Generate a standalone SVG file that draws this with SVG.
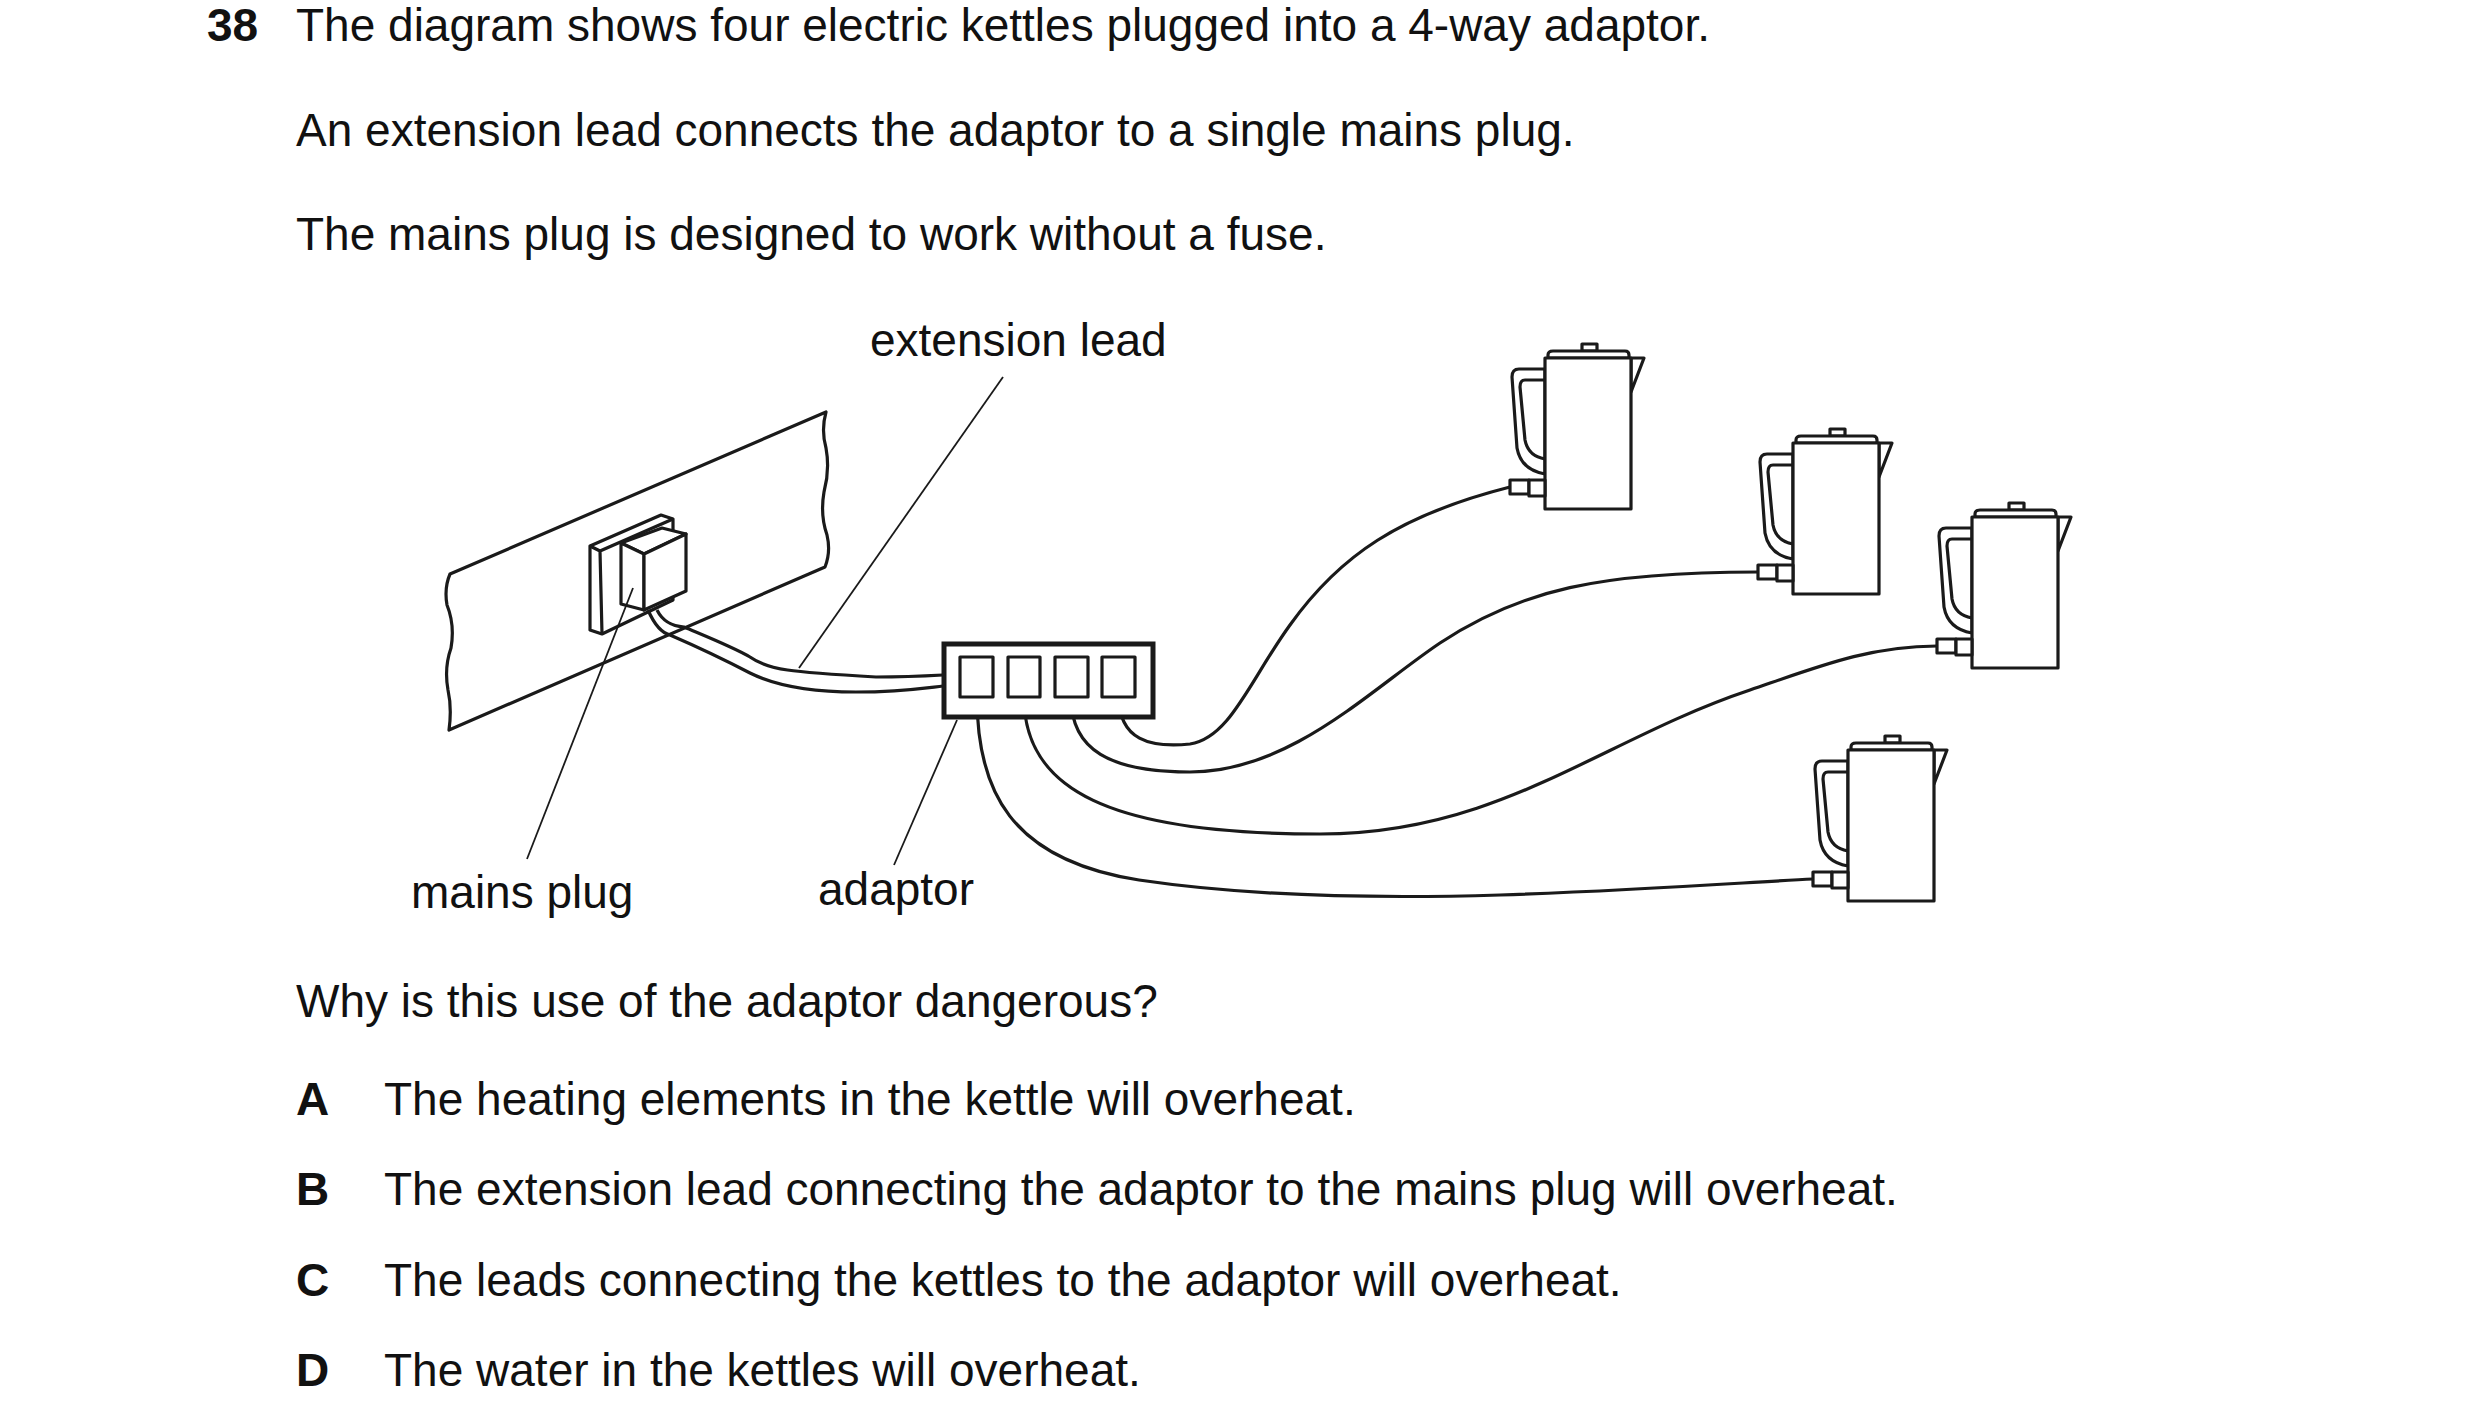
<svg xmlns="http://www.w3.org/2000/svg" width="2480" height="1428" viewBox="0 0 2480 1428">
<style>
text{font-family:"Liberation Sans",Arial,sans-serif;font-size:46px;fill:#111}
.b{font-weight:bold}
.s{fill:none;stroke:#1a1a1a;stroke-width:3.2;stroke-linejoin:round}
.w{fill:#fff;stroke:#1a1a1a;stroke-width:3.2;stroke-linejoin:round}
.l{fill:none;stroke:#1a1a1a;stroke-width:1.8}
</style>
<defs>
<g id="kettle">
<path class="w" d="M0,11 H-26 Q-33,11 -33,19 L-28,90 Q-24,112 0,116 Z"/>
<path class="s" d="M0,22 H-20 Q-25,22 -25,29 L-20,82 Q-17,98 0,101"/>
<rect class="w" x="37" y="-14" width="15" height="7"/>
<path class="w" d="M3,0 V-3 Q3,-7 8,-7 H80 Q84,-7 84,-3 V0 Z"/>
<path class="w" d="M86,0 H99 L86,34 Z"/>
<rect class="w" x="0" y="0" width="86" height="151"/>
<rect class="w" x="-35" y="122" width="19" height="14"/>
<rect class="w" x="-16" y="122" width="16" height="16"/>
</g>
</defs>
<g id="text">
<text class="b" x="207" y="41">38</text>
<text x="296" y="41">The diagram shows four electric kettles plugged into a 4-way adaptor.</text>
<text x="296" y="146">An extension lead connects the adaptor to a single mains plug.</text>
<text x="296" y="250">The mains plug is designed to work without a fuse.</text>
<text x="870" y="356">extension lead</text>
<text x="411" y="908">mains plug</text>
<text x="818" y="905">adaptor</text>
<text x="296" y="1017">Why is this use of the adaptor dangerous?</text>
<text class="b" x="296" y="1115">A</text><text x="384" y="1115">The heating elements in the kettle will overheat.</text>
<text class="b" x="296" y="1205">B</text><text x="384" y="1205">The extension lead connecting the adaptor to the mains plug will overheat.</text>
<text class="b" x="296" y="1296">C</text><text x="384" y="1296">The leads connecting the kettles to the adaptor will overheat.</text>
<text class="b" x="296" y="1386">D</text><text x="384" y="1386">The water in the kettles will overheat.</text>
</g>
<g id="wall">
<path class="w" d="M450,574 L826,412 Q821,430 826,448 Q830,470 824,492 Q820,515 827,535 Q831,552 825,567 L449,730 Q452,708 448,690 Q444,668 451,648 Q455,625 447,605 Q444,588 450,574 Z"/>
</g>
<g id="mains-plug">
<path class="w" d="M590,546 L661,515 L673,519 L673,600 L602,634 L590,630 Z"/>
<path class="s" d="M590,546 L600,551 L673,519 M600,551 L602,634"/>
<path class="w" d="M621,543 L662,528 L686,534 L644,554 Z"/>
<path class="w" d="M621,543 L644,554 L644,610 L621,604 Z"/>
<path class="w" d="M644,554 L686,534 L686,591 L644,610 Z"/>
</g>
<g id="connectors">
<path class="s" d="M657,610 C663,622 672,626 684,627 C710,638 735,648 750,657 C768,670 790,672 876,677 C905,677 925,676 943,675"/>
<path class="s" d="M648,610 C655,626 662,633 670,635 C700,648 725,660 750,673 C780,688 820,692 856,692 C900,692 925,688 943,686"/>
<path class="l" d="M1003,377 L799,668"/>
<path class="l" d="M633,588 L527,859"/>
<path class="l" d="M957,720 L894,865"/>
<path class="s" d="M1119,697 C1119,740 1150,748 1190,744 C1230,738 1250,680 1290,625 C1340,555 1400,515 1510,487"/>
<path class="s" d="M1071,697 C1071,750 1110,772 1190,772 C1290,772 1370,690 1440,643 C1520,590 1600,572 1758,572"/>
<path class="s" d="M1024,697 C1024,790 1110,834 1320,834 C1500,834 1600,740 1750,690 C1820,666 1870,646 1937,646"/>
<path class="s" d="M977,697 C977,790 1010,860 1139,880 C1260,898 1400,898 1500,895 C1650,890 1750,882 1813,879"/>
</g>
<g id="adaptor">
<rect x="944" y="644" width="209" height="73" fill="#fff" stroke="#1a1a1a" stroke-width="5"/>
<rect class="w" x="960" y="657" width="33" height="40"/>
<rect class="w" x="1008" y="657" width="32" height="40"/>
<rect class="w" x="1055" y="657" width="33" height="40"/>
<rect class="w" x="1102" y="657" width="33" height="40"/>
</g>
<g id="kettle1"><use href="#kettle" transform="translate(1545,358)"/></g>
<g id="kettle2"><use href="#kettle" transform="translate(1793,443)"/></g>
<g id="kettle3"><use href="#kettle" transform="translate(1972,517)"/></g>
<g id="kettle4"><use href="#kettle" transform="translate(1848,750)"/></g>
</svg>
